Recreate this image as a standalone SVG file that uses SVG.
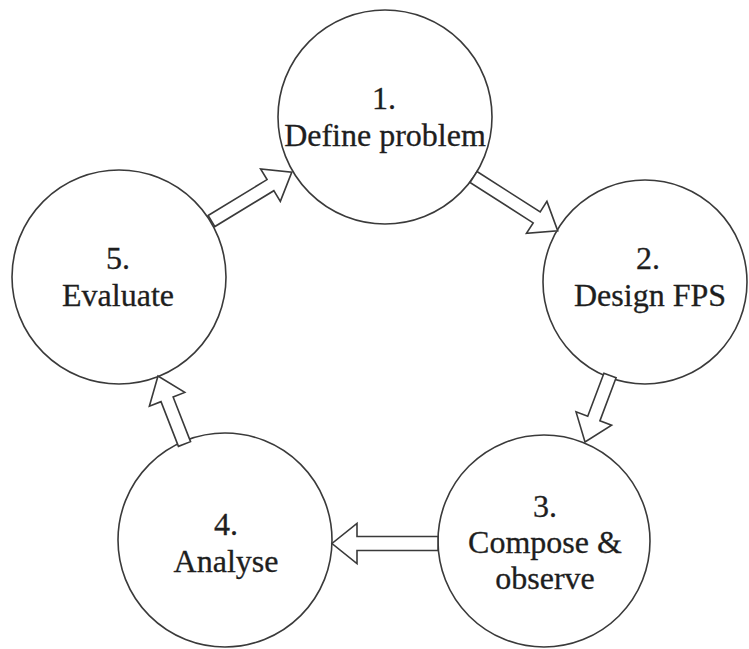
<svg xmlns="http://www.w3.org/2000/svg" width="749" height="649" viewBox="0 0 749 649">
<style>
.node{fill:#fff;stroke:#3a3a3a;stroke-width:1.6}
.arr{fill:#fff;stroke:#3a3a3a;stroke-width:1.6;stroke-linejoin:miter}
text{font-family:"Liberation Serif","Times New Roman",serif;font-size:32px;fill:#1e1e1e;stroke:#1e1e1e;stroke-width:0.3;text-anchor:middle}
</style>
<rect width="749" height="649" fill="#fff"/>
<g id="n1"><circle class="node" cx="385" cy="117" r="107"/><text x="384" y="109">1.</text><text x="385" y="146">Define problem</text></g>
<g id="n2"><circle class="node" cx="645" cy="282" r="102"/><text x="648" y="269">2.</text><text x="650" y="306">Design FPS</text></g>
<g id="n3"><circle class="node" cx="544" cy="541" r="106"/><text x="545" y="517">3.</text><text x="545" y="553">Compose &amp;</text><text x="545" y="589">observe</text></g>
<g id="n4"><circle class="node" cx="225" cy="540" r="107"/><text x="226" y="535">4.</text><text x="226" y="572">Analyse</text></g>
<g id="n5"><circle class="node" cx="119" cy="277" r="107"/><text x="118" y="269">5.</text><text x="118" y="306">Evaluate</text></g>
<g id="connectors">
<polygon class="arr" transform="translate(211.5,221) rotate(-31.3)" points="0,-6.5 69,-6.5 69,-19 94,0 69,19 69,6.5 0,6.5"/>
<polygon class="arr" transform="translate(473.5,177) rotate(32.6)" points="0,-6.5 75,-6.5 75,-19 100,0 75,19 75,6.5 0,6.5"/>
<polygon class="arr" transform="translate(610,375.5) rotate(110.6)" points="0,-6.5 46,-6.5 46,-19 71,0 46,19 46,6.5 0,6.5"/>
<polygon class="arr" transform="translate(438,543.5) rotate(180)" points="0,-7 81,-7 81,-20 106,0 81,20 81,7 0,7"/>
<polygon class="arr" transform="translate(184.5,444) rotate(-111.3)" points="0,-6.5 48,-6.5 48,-19 73,0 48,19 48,6.5 0,6.5"/>
</g>
</svg>
